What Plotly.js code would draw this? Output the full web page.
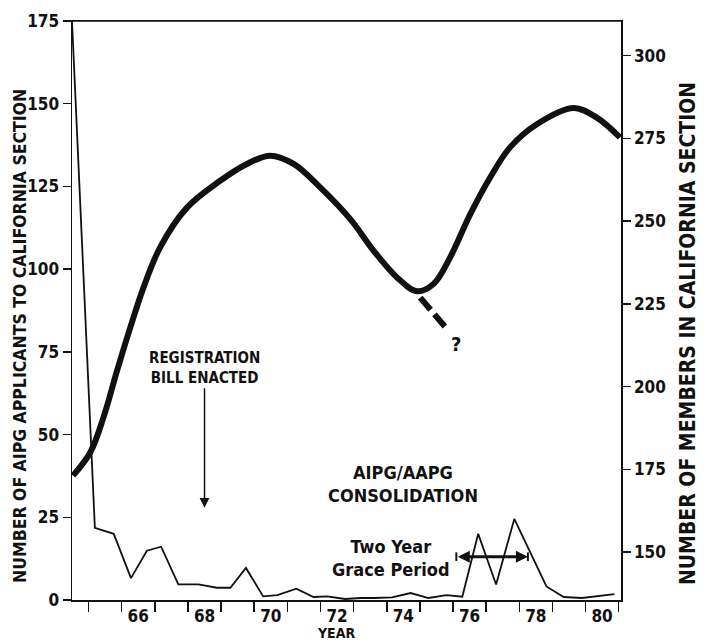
<!DOCTYPE html>
<html>
<head>
<meta charset="utf-8">
<script src="https://cdn.plot.ly/plotly-3.0.1.min.js"></script>
<style>html,body{margin:0;padding:0;background:#fff;}#chart{width:706px;height:644px;}</style>
</head>
<body>
<div id="chart"></div>
<script>
// Applicants (left axis)
var applicantYears = [64.0, 64.69, 65.26, 65.78, 66.26, 66.69, 67.21, 67.82, 68.37, 68.78, 69.25, 69.77, 70.2, 70.77, 71.29, 71.7, 72.24, 72.72, 73.12, 73.66, 74.22, 74.76, 75.3, 75.78, 76.26, 76.8, 77.35, 78.32, 78.84, 79.39, 80.37];
var applicantValues = [175, 21.8, 20.0, 6.6, 14.9, 16.1, 4.7, 4.7, 3.7, 3.7, 9.7, 1.1, 1.5, 3.4, 0.9, 1.1, 0.3, 0.6, 0.6, 0.8, 2.1, 0.6, 1.5, 1.0, 20.0, 4.7, 24.5, 4.1, 0.9, 0.6, 1.8];

// Members (right axis)
var memberYears = [64.03, 64.55, 64.95, 65.36, 65.76, 66.16, 66.66, 67.47, 68.47, 69.28, 69.98, 70.69, 71.49, 72.4, 73.1, 73.81, 74.41, 74.91, 75.41, 76.02, 76.62, 77.22, 78.03, 79.14, 79.84, 80.54];
var memberValues = [173.1, 180.1, 190.7, 204.8, 217.9, 230.0, 242.1, 254.1, 262.2, 267.3, 269.8, 267.3, 260.2, 250.6, 241.1, 233.0, 228.8, 231.0, 239.0, 252.1, 263.2, 272.3, 279.3, 284.2, 281.3, 275.3];

// Uncertain extension (dashed)
var extYears = [74.51, 75.36];
var extValues = [226.9, 216.9];

// Ticks
var yearLabelVals = [66, 68, 70, 72, 74, 76, 78, 80];
var yearLabelText = ['66', '68', '70', '72', '74', '76', '78', '80'];
var yearTickVals = [64.5, 65.5, 66.5, 67.5, 68.5, 69.5, 70.5, 71.5, 72.5, 73.5, 74.5, 75.5, 76.5, 77.5, 78.5, 79.5, 80.5];
var leftTickVals = [0, 25, 50, 75, 100, 125, 150, 175];
var rightTickVals = [150, 175, 200, 225, 250, 275, 300];

// Annotation anchors
var registrationYear = 68.0, registrationHead = 27.9;
var graceStart = 75.6, graceEnd = 77.76, graceLevel = 13.1;
var questionYear = 75.6, questionValue = 212.9;

var FONT = '"DejaVu Sans Condensed", "Liberation Sans Narrow", sans-serif';
var INK = '#111';

var traces = [
  {x: applicantYears, y: applicantValues, type: 'scatter', mode: 'lines',
   line: {color: INK, width: 1.8}, yaxis: 'y', hoverinfo: 'skip'},
  {x: memberYears, y: memberValues, type: 'scatter', mode: 'lines',
   line: {color: INK, width: 6, shape: 'spline', smoothing: 1}, yaxis: 'y2', hoverinfo: 'skip'},
  {x: extYears, y: extValues, type: 'scatter', mode: 'lines',
   line: {color: INK, width: 6, dash: '16px,6px'}, yaxis: 'y2', hoverinfo: 'skip'}
];

var tickFont = {family: FONT, size: 17, color: INK, weight: 'bold'};

var layout = {
  width: 706, height: 644,
  margin: {l: 72, r: 85, t: 21, b: 44},
  paper_bgcolor: '#fff', plot_bgcolor: '#fff',
  showlegend: false,
  xaxis: {
    range: [64.0, 80.57], showgrid: false, zeroline: false,
    showline: true, mirror: true, linecolor: INK, linewidth: 1.5,
    tickvals: yearLabelVals, ticktext: yearLabelText, ticks: '',
    tickfont: tickFont, ticklabelstandoff: 0,
    minor: {tickvals: yearTickVals, ticks: 'outside', ticklen: 10, tickwidth: 1.5, tickcolor: INK, showgrid: false}
  },
  yaxis: {
    range: [0, 175], showgrid: false, zeroline: false,
    showline: true, linecolor: INK, linewidth: 1.5,
    tickvals: leftTickVals, ticks: 'outside', ticklen: 8, tickwidth: 1.5, tickcolor: INK,
    tickfont: tickFont
  },
  yaxis2: {
    range: [135.5, 310.5], overlaying: 'y', side: 'right', showgrid: false, zeroline: false,
    showline: true, linecolor: INK, linewidth: 1.5,
    tickvals: rightTickVals, ticks: 'outside', ticklen: 8, tickwidth: 1.5, tickcolor: INK,
    tickfont: tickFont
  },
  shapes: [
    {type: 'line', xref: 'paper', yref: 'paper', x0: 0, x1: 1, y0: 1, y1: 1, line: {color: INK, width: 1.5}},
    {type: 'line', xref: 'x', yref: 'y', x0: graceStart, x1: graceStart, y0: graceLevel - 1.3, y1: graceLevel + 1.3, line: {color: INK, width: 2}},
    {type: 'line', xref: 'x', yref: 'y', x0: graceEnd, x1: graceEnd, y0: graceLevel - 1.3, y1: graceLevel + 1.3, line: {color: INK, width: 2}}
  ],
  annotations: [
    {xref: 'paper', yref: 'paper', x: -0.0947, y: 0.456, textangle: -90, showarrow: false,
     xanchor: 'center', yanchor: 'middle',
     text: 'NUMBER OF AIPG APPLICANTS TO CALIFORNIA SECTION',
     font: {family: FONT, size: 17.5, color: INK, weight: 'bold'}},
    {xref: 'paper', yref: 'paper', x: 1.122, y: 0.461, textangle: -90, showarrow: false,
     xanchor: 'center', yanchor: 'middle',
     text: 'NUMBER OF MEMBERS IN CALIFORNIA SECTION',
     font: {family: FONT, size: 21, color: INK, weight: 'bold'}},
    {xref: 'paper', yref: 'paper', x: 0.481, y: -0.057, xanchor: 'center', yanchor: 'middle', showarrow: false, text: 'YEAR',
     font: {family: FONT, size: 14, color: INK, weight: 'bold'}},
    {xref: 'x', yref: 'y', x: registrationYear, y: registrationHead, text: 'REGISTRATION<br>BILL ENACTED',
     showarrow: true, ax: 0, ay: -140, arrowhead: 2, arrowsize: 1.3, arrowwidth: 1.5, arrowcolor: INK,
     font: {family: FONT, size: 15, color: INK, weight: 'bold'}},
    {xref: 'x', yref: 'y', x: 74.0, y: 35.1, showarrow: false, text: 'AIPG/AAPG<br>CONSOLIDATION',
     font: {family: FONT, size: 18, color: INK, weight: 'bold'}},
    {xref: 'x', yref: 'y', x: 73.63, y: 12.8, showarrow: false, text: 'Two Year<br>Grace Period',
     font: {family: FONT, size: 18, color: INK, weight: 'bold'}},
    {xref: 'x', yref: 'y', x: graceEnd, y: graceLevel, ax: graceStart, ay: graceLevel, axref: 'x', ayref: 'y',
     text: '', showarrow: true, arrowside: 'end+start', arrowhead: 2, arrowsize: 0.8, arrowwidth: 3, arrowcolor: INK},
    {xref: 'x', yref: 'y2', x: questionYear, y: questionValue, showarrow: false, text: '?',
     font: {family: FONT, size: 20, color: INK, weight: 'bold'}}
  ]
};

Plotly.newPlot('chart', traces, layout, {staticPlot: true, displayModeBar: false});
</script>
</body>
</html>
